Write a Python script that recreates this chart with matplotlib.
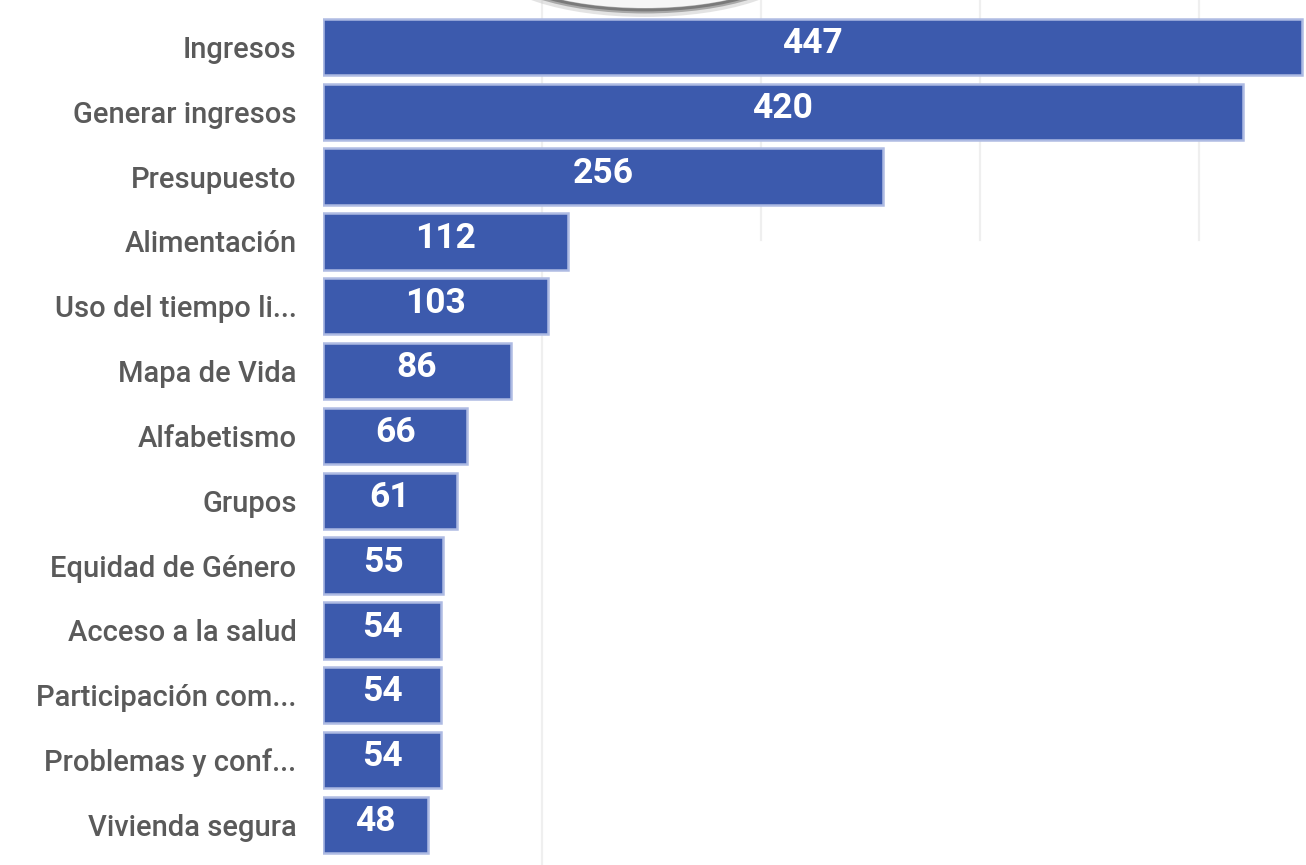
import matplotlib
matplotlib.use("Agg")
import matplotlib.pyplot as plt
from matplotlib import font_manager
from matplotlib.patches import Ellipse

categories = ["Ingresos", "Generar ingresos", "Presupuesto", "Alimentación",
              "Uso del tiempo li...", "Mapa de Vida", "Alfabetismo", "Grupos",
              "Equidad de Género", "Acceso a la salud", "Participación com...",
              "Problemas y conf...", "Vivienda segura"]
values = [447, 420, 256, 112, 103, 86, 66, 61, 55, 54, 54, 54, 48]
grid_ticks = [100, 200, 300, 400]

available = {f.name for f in font_manager.fontManager.ttflist}
def pick(cands):
    for c in cands:
        if c in available:
            return c
    return "DejaVu Sans"
label_family = pick(["Roboto", "Lato", "Open Sans"])
value_family = pick(["Roboto", "Lato", "Open Sans"])

W, H = 1306, 865
fig = plt.figure(figsize=(W / 100, H / 100), dpi=100)
fig.patch.set_facecolor("white")
ax = fig.add_axes([323 / W, 0, 1 - 323 / W, 1])

n = len(categories)
ypos = list(range(n))
bar_color = "#3c5aad"

y_bottom, y_top = 12.62, -0.725
ax.set_xlim(0, 449)
ax.set_ylim(y_bottom, y_top)

# faint gridlines: first one full height, others only behind the upper rows
upper_cut = 1 - (2.98 - y_top) / (y_bottom - y_top)
for i, g in enumerate(grid_ticks):
    ax.axvline(g, ymin=0 if i == 0 else upper_cut, ymax=1,
               color="#efefef", linewidth=1.6, zorder=0)

ax.barh(ypos, values, height=0.87, color=bar_color, edgecolor="#aebbe3",
        linewidth=1.8, zorder=3)

for y, v in zip(ypos, values):
    ax.text(v / 2, y - 0.05, str(v), ha="center", va="center", color="white",
            fontsize=25.5, fontweight="bold", family=[value_family, "DejaVu Sans"], zorder=4)

ax.set_xticks([])
ax.set_yticks(ypos)
ax.set_yticklabels(categories, fontsize=21, color="#5a5a5a", fontweight="medium",
                   family=[label_family, "DejaVu Sans"])
ax.tick_params(axis="y", length=0, pad=19)
for s in ax.spines.values():
    s.set_visible(False)

# decorative shadowed arc at the top
fax = fig.add_axes([0, 0, 1, 1], zorder=5)
fax.set_xlim(0, W)
fax.set_ylim(H, 0)
fax.axis("off")
fax.patch.set_alpha(0)
for lw, col, a in [(10, "#c8c8c8", 0.5), (5, "#9a9a9a", 0.8), (2, "#7a7a7a", 1.0)]:
    fax.add_patch(Ellipse((645, -40), 300, 100, facecolor="none", edgecolor=col,
                          linewidth=lw, alpha=a))
fax.add_patch(Ellipse((645, -40), 296, 96, facecolor="#f6f6f6", edgecolor="none"))

fig.savefig("out.png", dpi=100, facecolor="white")
